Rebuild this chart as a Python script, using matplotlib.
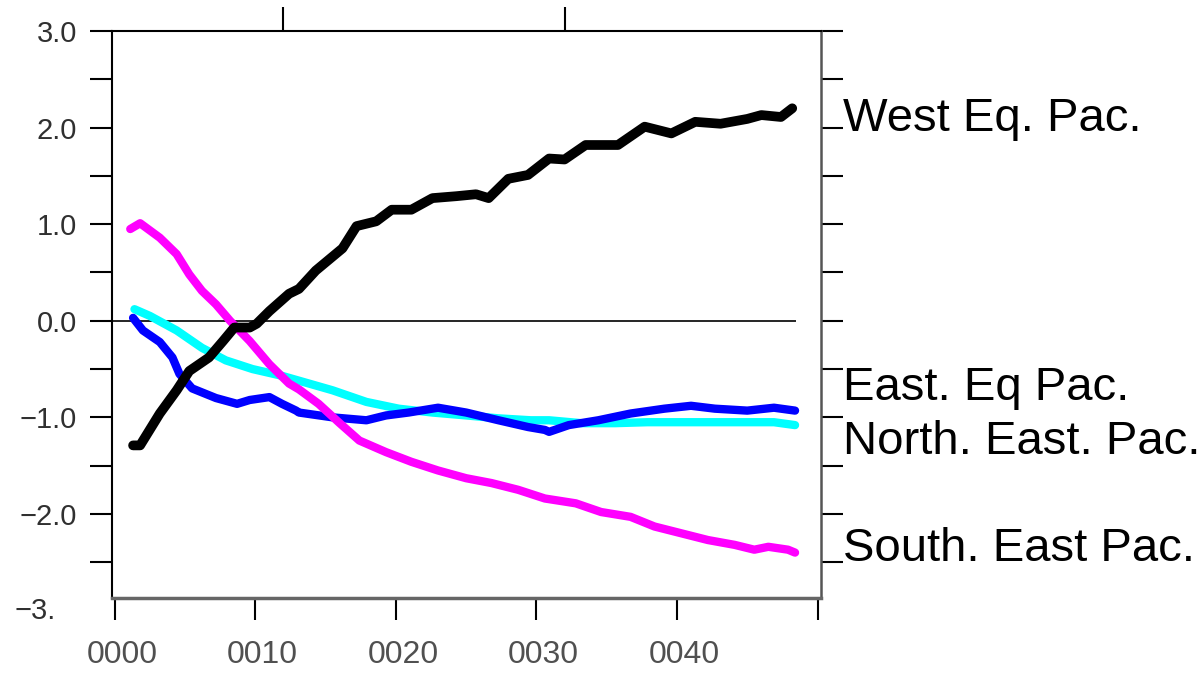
import numpy as np
import matplotlib.pyplot as plt
from matplotlib.transforms import blended_transform_factory, ScaledTranslation

# time axis in years
west_x = [1.3, 1.8, 3.2, 4.4, 5.3, 6.7, 7.7, 8.5, 9.6, 10.1, 11.0, 12.4, 13.1, 14.3,
          16.2, 17.2, 18.6, 19.7, 21.1, 22.6, 24.3, 25.7, 26.6, 28.0, 29.4, 30.9,
          32.0, 33.5, 35.8, 37.7, 39.6, 41.3, 43.1, 45.0, 46.0, 47.4, 48.2]
west_y = [-1.29, -1.29, -0.96, -0.72, -0.52, -0.38, -0.21, -0.07, -0.07, -0.03, 0.10,
          0.28, 0.33, 0.52, 0.75, 0.98, 1.03, 1.15, 1.15, 1.27, 1.29, 1.31, 1.27, 1.47,
          1.51, 1.68, 1.67, 1.82, 1.82, 2.01, 1.94, 2.06, 2.04, 2.09, 2.13, 2.11, 2.20]

south_x = [1.1, 1.8, 3.2, 4.4, 5.3, 6.2, 7.2, 8.2, 9.6, 11.0, 12.4, 13.1, 14.5, 16.0,
           17.4, 19.3, 21.1, 23.0, 25.0, 26.8, 28.7, 30.6, 32.8, 34.6, 36.7, 38.4,
           40.3, 42.2, 44.1, 45.5, 46.5, 47.9, 48.4]
south_y = [0.95, 1.01, 0.86, 0.69, 0.48, 0.31, 0.17, 0.0, -0.21, -0.45, -0.65, -0.71,
           -0.86, -1.06, -1.24, -1.36, -1.46, -1.55, -1.63, -1.68, -1.75, -1.84, -1.89,
           -1.98, -2.03, -2.13, -2.20, -2.27, -2.32, -2.37, -2.34, -2.37, -2.40]

north_x = [1.4, 2.5, 4.4, 6.2, 7.9, 9.8, 11.9, 13.1, 15.5, 17.9, 20.2, 22.6, 25.0,
           27.3, 29.6, 30.9, 33.2, 35.6, 37.9, 40.3, 42.7, 45.0, 46.9, 48.4]
north_y = [0.12, 0.05, -0.10, -0.28, -0.41, -0.50, -0.57, -0.62, -0.72, -0.84, -0.91,
           -0.95, -0.98, -1.01, -1.03, -1.03, -1.06, -1.06, -1.05, -1.05, -1.05, -1.05,
           -1.05, -1.08]

east_x = [1.3, 2.0, 3.2, 4.1, 4.6, 5.5, 7.2, 8.7, 9.6, 11.0, 11.9, 12.9, 13.1, 15.5,
          17.9, 19.3, 20.9, 23.0, 25.0, 27.3, 29.4, 30.6, 30.9, 32.3, 34.4, 36.7,
          39.1, 41.0, 42.7, 45.0, 46.9, 48.4]
east_y = [0.03, -0.10, -0.22, -0.38, -0.55, -0.70, -0.80, -0.86, -0.82, -0.79, -0.86,
          -0.93, -0.95, -1.00, -1.03, -0.98, -0.95, -0.90, -0.95, -1.03, -1.10, -1.13,
          -1.15, -1.08, -1.03, -0.96, -0.91, -0.88, -0.91, -0.93, -0.90, -0.93]

names = ["West Eq. Pac.", "East. Eq Pac.", "North. East. Pac.", "South. East Pac."]
name_y = [1.96, -0.82, -1.38, -2.49]

x_ticks = [0, 10, 20, 30, 40, 50]
x_labels = ["0000", "0010", "0020", "0030", "0040", ""]
y_ticks = [3.0, 2.0, 1.0, 0.0, -1.0, -2.0]
y_labels = ["3.0", "2.0", "1.0", "0.0", "\u22121.0", "\u22122.0"]

fig = plt.figure(figsize=(12.03, 6.76), dpi=100)
ax = fig.add_axes([0.0931, 0.1154, 0.5894, 0.8387])

line_kw = dict(solid_joinstyle="round", solid_capstyle="round")
ax.hlines(0, -0.2, 48.5, color="black", lw=1.2, zorder=1)
ax.plot(north_x, north_y, color="#00ffff", lw=6, zorder=2, **line_kw)
ax.plot(east_x, east_y, color="#0000ff", lw=6, zorder=3, **line_kw)
ax.plot(south_x, south_y, color="#ff00ff", lw=6, zorder=4, **line_kw)
ax.plot(west_x, west_y, color="black", lw=7, zorder=5, **line_kw)

ax.set_xlim(-0.2, 50.25)
ax.set_ylim(-2.87, 3.0)

ax.set_xticks(x_ticks)
ax.set_xticklabels(x_labels, fontfamily="Liberation Sans", fontsize=23, color="#505050")
ax.set_yticks(y_ticks)
ax.set_yticklabels(y_labels, fontfamily="Liberation Sans", fontsize=21, color="#303030")
ax.set_yticks(np.arange(-2.5, 3.0, 1.0), minor=True)
ax.tick_params(axis="x", direction="out", length=16, width=1.5, pad=14, color="black")
ax.tick_params(axis="y", which="both", direction="out", length=16, width=1.5, pad=9,
               left=True, right=True, color="black")
for lab in ax.get_xticklabels():
    lab.set_transform(lab.get_transform() + ScaledTranslation(0.07, 0, fig.dpi_scale_trans))

# top ticks
top = ax.secondary_xaxis("top")
top.set_xticks([12, 32])
top.set_xticklabels([])
top.tick_params(direction="out", length=17, width=1.5)
top.spines["top"].set_visible(False)

for s in ["left", "top"]:
    ax.spines[s].set_linewidth(1.5)
    ax.spines[s].set_color("black")
ax.spines["right"].set_linewidth(1.8)
ax.spines["right"].set_color("#555555")
ax.spines["bottom"].set_linewidth(2.5)
ax.spines["bottom"].set_color("#666666")

trans = blended_transform_factory(ax.transAxes, ax.transData)
ax.text(-0.137, -3.0, "\u22123.", transform=trans, ha="left", va="center",
        fontfamily="Liberation Sans", fontsize=21, color="#303030", clip_on=False)

for name, yy in zip(names, name_y):
    ax.text(1.031, yy, name, transform=trans, ha="left", va="baseline",
            fontfamily="Liberation Sans", fontsize=34, color="black", clip_on=False)

fig.savefig("out.png", dpi=100)
